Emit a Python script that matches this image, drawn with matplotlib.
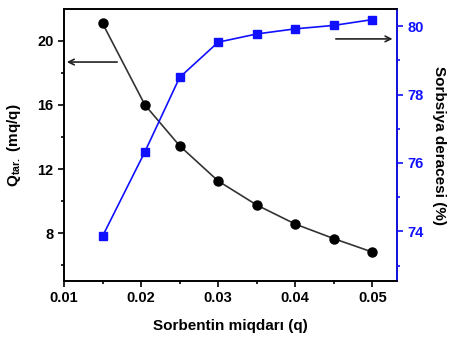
import matplotlib
matplotlib.use("Agg")
import matplotlib.pyplot as plt

plt.rcParams["font.family"] = ["Liberation Sans", "DejaVu Sans"]
plt.rcParams["font.weight"] = "bold"
plt.rcParams["mathtext.fontset"] = "custom"
plt.rcParams["mathtext.rm"] = "Liberation Sans:bold"
plt.rcParams["mathtext.bf"] = "Liberation Sans:bold"

sorbent = [0.015, 0.0205, 0.025, 0.030, 0.035, 0.040, 0.045, 0.050]
q_tar = [21.1, 16.0, 13.45, 11.25, 9.75, 8.56, 7.65, 6.81]
sorption = [73.86, 76.33, 78.5, 79.53, 79.77, 79.92, 80.02, 80.19]

blue = "#1010ff"

fig = plt.figure(figsize=(4.55, 3.38), dpi=100)
ax = fig.add_axes([0.1407, 0.1686, 0.7318, 0.8048])
ax2 = ax.twinx()

ax.plot(sorbent, q_tar, color="#333333", linewidth=1.2, marker="o",
        markersize=6.5, markerfacecolor="black", markeredgecolor="black", zorder=3)
ax2.plot(sorbent, sorption, color=blue, linewidth=1.2, marker="s",
         markersize=5.3, markerfacecolor=blue, markeredgecolor=blue)

ax.set_xlim(0.01, 0.0532)
ax.set_ylim(5.0, 22.0)
ax2.set_ylim(72.55, 80.5)

ax.set_xticks([0.01, 0.02, 0.03, 0.04, 0.05])
ax.set_xticks([0.015, 0.025, 0.035, 0.045], minor=True)
ax.set_xticklabels(["0.01", "0.02", "0.03", "0.04", "0.05"])
ax.set_yticks([8, 12, 16, 20])
ax.set_yticks([6, 10, 14, 18], minor=True)
ax2.set_yticks([74, 76, 78, 80])
ax2.set_yticks([73, 75, 77, 79], minor=True)

ax.tick_params(axis="both", which="major", labelsize=10.5, length=4, width=1.2)
ax.tick_params(axis="both", which="minor", length=2.5, width=1.2)
ax2.tick_params(axis="y", which="major", labelsize=10.5, length=4, width=1.2,
                colors=blue)
ax2.tick_params(axis="y", which="minor", length=2.5, width=1.2, colors=blue)
for lbl in ax.get_xticklabels() + ax.get_yticklabels() + ax2.get_yticklabels():
    lbl.set_fontweight("bold")

for side in ["left", "bottom", "top"]:
    ax2.spines[side].set_linewidth(1.2)
ax2.spines["right"].set_color(blue)
ax2.spines["right"].set_linewidth(1.2)
for side in ax.spines:
    ax.spines[side].set_linewidth(1.2)

ax.set_xlabel("Sorbentin miqdarı (q)", fontsize=11, fontweight="bold", labelpad=10)
ax.set_ylabel(r"Q$_{\mathbf{tar.}}$ (mq/q)", fontsize=11, fontweight="bold", labelpad=10)
ax2.set_ylabel("Sorbsiya deracesi (%)", fontsize=11, fontweight="bold",
               rotation=270, labelpad=16)

ax.annotate("", xy=(0.0, 0.805), xytext=(0.168, 0.805), xycoords="axes fraction",
            arrowprops=dict(arrowstyle="->", color="#222222", lw=1.2))
ax.annotate("", xy=(0.995, 0.89), xytext=(0.808, 0.89), xycoords="axes fraction",
            arrowprops=dict(arrowstyle="->", color="#222222", lw=1.2))

fig.savefig("out.png", dpi=100)
